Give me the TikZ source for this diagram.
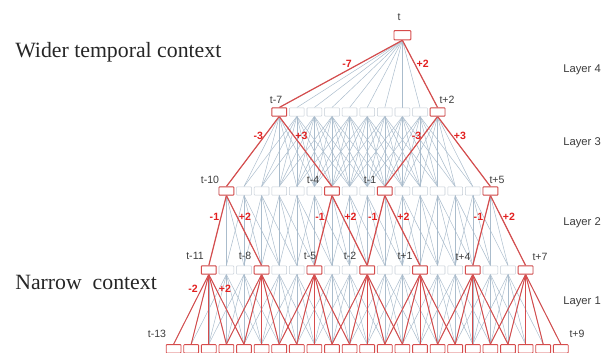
\documentclass[tikz,border=0pt]{standalone}
\usepackage{fontspec}
\setmainfont{Liberation Serif}
\setsansfont{Liberation Sans}
\usepackage{tikz}
\usetikzlibrary{positioning}

\definecolor{unitred}{RGB}{214,76,76}
\definecolor{linkgray}{RGB}{170,188,204}
\definecolor{boxgray}{RGB}{196,204,214}
\definecolor{labelred}{RGB}{226,32,32}
\definecolor{labelgray}{RGB}{60,60,60}

\pgfdeclarelayer{background}
\pgfsetlayers{background,main}

\begin{document}
\begin{tikzpicture}[
        unit/.style={rectangle, draw=boxgray, fill=white, rounded corners=0.5pt, minimum width=0.37cm, minimum height=0.21cm, inner sep=0pt},
        hot/.style={unit, draw=unitred, line width=0.7pt},
        link/.style={linkgray, line width=0.35pt},
        hotlink/.style={unitred, line width=0.85pt},
        tlabel/.style={font=\sffamily\fontsize{7.5}{8}\selectfont, text=labelgray, inner sep=0pt},
        wlabel/.style={font=\sffamily\bfseries\fontsize{7.5}{8}\selectfont, text=labelred, inner sep=1pt},
        layername/.style={font=\sffamily\fontsize{8}{10}\selectfont, text=labelgray, anchor=west, inner sep=0pt},
        context/.style={font=\fontsize{15.5}{18}\selectfont, text=black!85, anchor=west, inner sep=0pt}
    ]
    \useasboundingbox (0,0) rectangle (15.15,-8.8);

    % frames t-13 .. t+9 are numbered 0 .. 22
    \foreach \i in {0,...,22}
        \node[hot, line width=0.6pt] (x-\i) at ({4.34+0.44*\i},-8.72) {};
    % layer 1: t-11 .. t+7
    \foreach \i in {2,...,20}
        \node[unit] (a-\i) at ({4.34+0.44*\i},-6.75) {};
    % layer 2: t-10 .. t+5
    \foreach \i in {3,...,18}
        \node[unit] (b-\i) at ({4.34+0.44*\i},-4.775) {};
    % layer 3: t-7 .. t+2
    \foreach \i in {6,...,15}
        \node[unit] (c-\i) at ({4.34+0.44*\i},-2.8) {};
    % layer 4: t
    \node[hot, minimum width=0.42cm, minimum height=0.23cm] (top) at ({4.34+0.44*13},-0.88) {};

    % frames that are computed
    \foreach \i in {2,5,8,11,14,17,20} \node[hot] at (a-\i) {};
    \foreach \i in {3,9,12,18} \node[hot] at (b-\i) {};
    \foreach \i in {6,15} \node[hot] at (c-\i) {};

    \begin{pgfonlayer}{background}
        % all connections
        \foreach \i in {2,...,20}
            \foreach \d in {-2,...,2} {
                \pgfmathtruncatemacro\j{\i+\d}
                \draw[link] (a-\i.south) -- (x-\j.north);
            }
        \foreach \i in {3,...,18}
            \foreach \d in {-1,...,2} {
                \pgfmathtruncatemacro\j{\i+\d}
                \draw[link] (b-\i.south) -- (a-\j.north);
            }
        \foreach \i in {6,...,15}
            \foreach \d in {-3,...,3} {
                \pgfmathtruncatemacro\j{\i+\d}
                \draw[link] (c-\i.south) -- (b-\j.north);
            }
        \foreach \j in {6,...,15}
            \draw[link] (top.south) -- (c-\j.north);

        % subsampled connections
        \foreach \i in {2,5,8,11,14,17,20}
            \foreach \d in {-2,...,2} {
                \pgfmathtruncatemacro\j{\i+\d}
                \draw[hotlink, line width=0.7pt] (a-\i.south) -- (x-\j.north);
            }
        \foreach \i in {3,9,12,18} {
            \pgfmathtruncatemacro\l{\i-1}
            \pgfmathtruncatemacro\r{\i+2}
            \draw[hotlink] (b-\i.south) -- node[wlabel, pos=.3, left] {-1} (a-\l.north);
            \draw[hotlink] (b-\i.south) -- node[wlabel, pos=.3, right] {+2} (a-\r.north);
        }
        \foreach \i in {6,15} {
            \pgfmathtruncatemacro\l{\i-3}
            \pgfmathtruncatemacro\r{\i+3}
            \draw[hotlink] (c-\i.south) -- node[wlabel, pos=.27, left] {-3} (b-\l.north);
            \draw[hotlink] (c-\i.south) -- node[wlabel, pos=.27, right] {+3} (b-\r.north);
        }
        \draw[hotlink] (top.south) -- node[wlabel, pos=.45, above=1pt] {-7} (c-6.north);
        \draw[hotlink] (top.south) -- node[wlabel, pos=.35, right] {+2} (c-15.north);
    \end{pgfonlayer}

    % offsets of the first unit of layer 1
    \node[wlabel] (m2) at (4.825,-7.225) {-2};
    \node[wlabel] (p2) at (5.625,-7.225) {+2};

    % time stamps
    \node[tlabel] (lt) at (9.975,-0.425) {t};
    \node[tlabel] (lc6) at (6.9,-2.5) {t-7};
    \node[tlabel] (lc15) at (11.175,-2.5) {t+2};
    \node[tlabel] (lb3) at (5.25,-4.5) {t-10};
    \node[tlabel] (lb9) at (7.825,-4.5) {t-4};
    \node[tlabel] (lb12) at (9.25,-4.5) {t-1};
    \node[tlabel] (lb18) at (12.425,-4.5) {t+5};
    \node[tlabel] (la2) at (4.875,-6.4) {t-11};
    \node[tlabel] (la5) at (6.125,-6.4) {t-8};
    \node[tlabel] (la8) at (7.75,-6.4) {t-5};
    \node[tlabel] (la11) at (8.75,-6.4) {t-2};
    \node[tlabel] (la14) at (10.125,-6.4) {t+1};
    \node[tlabel] (la17) at (11.575,-6.425) {t+4};
    \node[tlabel] (la20) at (13.5,-6.425) {t+7};
    \node[tlabel] (lx0) at (3.925,-8.35) {t-13};
    \node[tlabel] (lx22) at (14.425,-8.35) {t+9};

    % layer names
    \node[layername] (n4) at (14.075,-1.75) {Layer 4};
    \node[layername] (n3) at (14.075,-3.575) {Layer 3};
    \node[layername] (n2) at (14.075,-5.575) {Layer 2};
    \node[layername] (n1) at (14.075,-7.55) {Layer 1};

    % context captions
    \node[context] (wide) at (0.375,-1.3) {Wider temporal context};
    \node[context] (narrow) at (0.375,-7.05) {Narrow\ \ context};
\end{tikzpicture}
\end{document}
